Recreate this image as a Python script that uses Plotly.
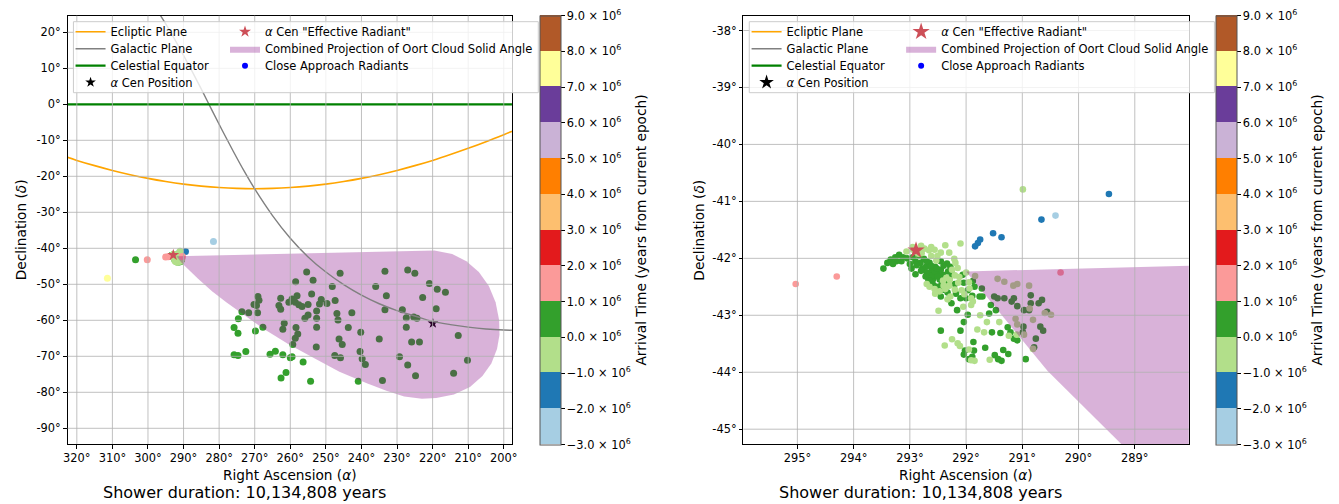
import plotly.graph_objects as go

W, H = 1339, 504
FONT = "DejaVu Sans"

# ---------------------------------------------------------------- data
# Ecliptic, galactic plane and celestial equator (RA, Dec in degrees)
ecl_ra = [325, 320, 315, 310, 305, 300, 295, 290, 285, 280, 275, 270, 265, 260,
          255, 250, 245, 240, 235, 230, 225, 220, 215, 210, 205, 200, 195]
ecl_dec = [-13.96, -15.58, -17.04, -18.37, -19.55, -20.58, -21.45, -22.17, -22.72,
           -23.12, -23.36, -23.44, -23.36, -23.12, -22.72, -22.17, -21.45, -20.58,
           -19.55, -18.37, -17.04, -15.58, -13.96, -12.23, -10.38, -8.43, -6.40]

gal_ra = [298, 294, 291, 288, 285, 282, 279, 276, 273, 270, 265, 260, 255, 250,
          245, 240, 235, 230, 225, 220, 215, 210, 205, 200, 195]
gal_dec = [27.0, 20.7, 15.4, 9.9, 4.2, -1.7, -7.5, -13.1, -18.5, -23.5, -30.9, -37.2,
           -42.4, -46.6, -50.1, -53.0, -55.4, -57.3, -58.8, -60.3, -61.2, -61.9,
           -62.4, -62.7, -62.85]

equ_ra = [325, 195]
equ_dec = [0.0, 0.0]

# alpha Centauri and its "effective radiant"
acen_ra, acen_dec = [219.93], [-60.83]
eff_ra, eff_dec = [292.89], [-41.86]

# Combined projection of the Oort cloud solid angle (outline)
oort_ra = [292.0, 288.0, 280.0, 270.0, 260.0, 250.0, 240.0, 230.0, 224.0, 219.5,
           214.5, 210.5, 207.0, 204.2, 202.3, 201.3, 201.2, 201.9, 203.5, 206.0,
           209.5, 214.0, 219.0, 223.0, 228.0, 233.0, 238.5, 246.2, 253.9, 260.6,
           267.3, 273.0, 278.0, 282.0, 286.0, 289.2, 290.55]
oort_dec = [-42.23, -42.13, -41.93, -41.68, -41.43, -41.18, -40.93, -40.68, -40.55,
            -40.6, -41.6, -43.6, -46.6, -50.5, -55.0, -60.0, -64.0, -68.0, -72.0,
            -75.5, -78.5, -80.6, -81.6, -81.8, -81.2, -79.6, -77.5, -74.3, -70.2,
            -66.6, -62.5, -58.6, -55.0, -51.9, -48.4, -45.3, -43.98]

# Close-approach radiants, grouped by arrival-time band (years from current epoch)
lblue_ra = [281.6, 290.41]
lblue_dec = [-38.1, -41.25]
lblue_t = -2.5e6

blue_ra = [289.46, 290.66, 291.52, 291.37, 291.75, 291.79, 291.84]
blue_dec = [-40.87, -41.32, -41.56, -41.63, -41.67, -41.73, -41.79]
blue_t = -1.5e6

green_ra = [
    255.4, 246.0, 258.5, 253.6, 248.2, 254.0, 269.1, 268.8, 270.2, 269.5, 262.7, 263.2,
    262.7, 260.4, 259.5, 258.1, 258.6, 257.6, 256.7, 255.0, 255.0, 255.9, 252.6, 252.6,
    251.3, 251.8, 249.7, 247.4, 246.9, 246.6, 242.7, 252.6, 243.7, 240.2, 273.6, 271.7,
    269.2, 274.6, 267.7, 269.8, 261.7, 262.1, 258.4, 257.9, 258.6, 259.3, 252.7, 246.3,
    245.4, 247.5, 245.9, 240.4, 239.8, 238.9, 240.9, 275.8, 274.7, 275.8, 274.7, 272.5,
    265.7, 264.2, 262.1, 260.0, 259.5, 256.4, 261.2, 262.6, 254.3,
    233.4, 227.0, 225.0, 236.0, 220.9, 218.7, 216.4, 233.0, 222.8, 233.4, 228.5, 227.4,
    225.3, 224.4, 219.0, 227.4, 235.0, 225.9, 223.7, 212.8, 229.3, 227.0, 224.8, 234.1,
    214.1, 210.2, 303.5,
    293.47, 293.40, 293.34, 293.26, 293.19, 293.12, 293.24, 292.97, 292.84, 292.81,
    292.75, 292.71, 292.65, 292.61, 292.66, 292.55, 292.51, 292.59, 292.47, 292.41,
    292.37, 292.44, 292.32, 292.34, 292.25, 292.45, 292.26, 292.16, 292.06, 292.04,
    292.00, 292.04, 292.45, 292.10, 291.97, 292.02, 291.95, 291.86, 291.87, 291.66,
    292.04, 291.49, 291.43, 291.37, 291.34, 291.25, 290.94, 291.54, 291.39, 291.26,
    291.89, 291.97, 291.72, 291.71, 291.50, 291.44, 291.32, 291.19, 291.15, 291.09,
    290.97, 290.88, 290.85, 290.71, 290.65, 290.56, 290.68, 290.63, 290.76, 290.79,
    290.98, 290.99, 291.15, 291.09, 291.21, 291.59, 291.56, 291.47, 291.76, 291.88,
    291.85, 290.85, 292.90, 292.78, 292.60, 292.70, 292.45, 292.56, 292.50, 292.67,
    291.89,
    293.30, 293.15, 293.05, 292.95, 292.88, 292.80, 292.72, 292.64, 292.58, 292.52,
    292.40, 292.33, 292.70, 292.62, 292.52, 292.40, 292.30, 292.20, 292.18, 292.10,
    292.90, 293.00, 292.85, 292.45, 292.28]
green_dec = [
    -46.6, -46.9, -49.3, -48.9, -50.6, -52.7, -53.4, -54.4, -55.6, -55.9, -53.9, -55.9,
    -56.9, -55.0, -54.1, -53.2, -55.0, -55.7, -56.2, -55.6, -58.5, -59.4, -57.4, -59.4,
    -54.2, -55.5, -55.3, -54.5, -58.1, -59.9, -57.9, -61.9, -62.0, -63.3, -57.6, -57.9,
    -57.9, -59.6, -61.9, -63.0, -60.8, -62.5, -62.0, -63.8, -65.0, -66.7, -67.4, -65.2,
    -66.7, -69.8, -70.4, -68.7, -70.7, -72.3, -76.9, -62.0, -63.6, -69.6, -69.8, -68.7,
    -69.4, -68.6, -69.6, -70.4, -70.1, -71.6, -74.5, -76.0, -76.9,
    -46.4, -46.0, -46.9, -50.6, -49.8, -51.4, -52.2, -53.2, -53.7, -57.1, -57.1, -59.3,
    -59.1, -59.4, -56.8, -61.9, -65.2, -66.0, -66.0, -64.2, -70.1, -72.4, -75.4, -76.7,
    -74.7, -71.1, -43.2,
    -42.18, -42.08, -42.02, -41.98, -41.94, -41.98, -42.05, -42.18, -41.95, -42.08,
    -42.01, -42.15, -42.08, -42.21, -42.27, -42.15, -42.27, -42.37, -42.37, -42.29,
    -42.41, -42.47, -42.23, -42.09, -42.27, -42.67, -42.79, -42.91, -42.29, -42.43,
    -42.70, -43.12, -43.27, -43.27, -42.99, -43.62, -43.77, -43.62, -43.47, -43.57,
    -43.69, -43.70, -43.77, -43.80, -43.61, -43.68, -43.77, -43.30, -43.31, -43.21,
    -42.66, -42.56, -42.53, -42.67, -42.67, -42.70, -42.70, -42.76, -42.70, -42.84,
    -42.91, -42.91, -42.65, -42.79, -42.73, -42.94, -43.20, -43.27, -43.41, -43.56,
    -43.20, -43.30, -43.41, -43.44, -43.30, -42.97, -42.82, -42.91, -42.67, -42.40,
    -42.50, -42.79, -42.05, -42.18, -42.30, -42.25, -42.20, -42.23, -42.32, -42.38,
    -43.73,
    -42.10, -42.05, -42.00, -41.98, -42.12, -42.22, -42.32, -42.40, -42.47, -42.50,
    -42.55, -42.60, -42.05, -42.13, -42.18, -42.13, -42.35, -42.45, -42.62, -42.70,
    -42.28, -42.10, -41.88, -42.05, -42.15]
green_t = 0.5e6

lgreen_ra = [
    293.06, 292.94, 292.74, 292.66, 292.56, 292.51, 292.37, 292.10, 292.21, 292.15,
    292.65, 292.56, 292.41, 292.37, 292.47, 292.29, 292.28, 292.14, 292.08, 292.03,
    291.91, 291.63, 291.68, 292.38, 292.15, 292.11, 291.91, 291.85, 291.58, 292.49,
    292.35, 292.19, 292.53, 292.62, 292.79, 291.84, 291.44, 291.32, 291.16, 291.09,
    290.88, 290.87, 290.81, 290.60, 290.49, 291.12, 291.41, 291.24, 291.10, 290.97,
    290.81, 291.09, 291.94, 291.91, 291.88, 290.99, 292.85, 292.30, 292.20,
    292.95, 292.80, 292.62, 292.45, 292.30, 292.25, 292.40, 292.55, 292.20, 292.12,
    292.00, 291.95, 292.70, 292.33, 292.05, 291.75, 291.80, 291.95, 292.25]
lgreen_dec = [
    -41.88, -41.85, -41.83, -41.86, -41.85, -41.96, -41.77, -41.74, -42.01, -42.17,
    -42.50, -42.54, -42.39, -42.54, -42.58, -42.38, -42.67, -42.43, -42.56, -42.63,
    -42.82, -43.12, -43.30, -43.53, -43.49, -43.54, -43.79, -43.80, -43.78, -42.92,
    -42.34, -42.08, -42.04, -41.96, -41.91, -42.31, -42.36, -42.41, -42.48, -42.45,
    -42.48, -42.88, -43.08, -42.96, -42.99, -43.06, -43.12, -43.36, -43.34, -43.34,
    -43.59, -43.16, -42.53, -42.70, -42.76, -40.79, -41.92, -42.48, -42.30,
    -41.80, -41.78, -41.80, -41.90, -41.90, -42.20, -42.48, -42.62, -42.55, -42.33,
    -42.25, -42.42, -42.45, -42.72, -42.85, -43.00, -43.25, -43.60, -43.42]
lgreen_t = -0.5e6

pink_ra = [300.2, 295.03, 294.30, 290.32]
pink_dec = [-43.2, -42.45, -42.32, -42.25]
pink_t = 1.5e6

yellow_ra = [311.4]
yellow_dec = [-48.3]
yellow_t = 7.5e6

# Axis ticks and colour scale
ra_ticks_wide = [320, 310, 300, 290, 280, 270, 260, 250, 240, 230, 220, 210, 200]
dec_ticks_wide = [-90, -80, -70, -60, -50, -40, -30, -20, -10, 0, 10, 20]
ra_ticks_zoom = [295, 294, 293, 292, 291, 290, 289]
dec_ticks_zoom = [-45, -44, -43, -42, -41, -40, -39, -38]
cb_ticks = [-3e6, -2e6, -1e6, 0, 1e6, 2e6, 3e6, 4e6, 5e6, 6e6, 7e6, 8e6, 9e6]
paired = ['#a6cee3', '#1f78b4', '#b2df8a', '#33a02c', '#fb9a99', '#e31a1c',
          '#fdbf6f', '#ff7f00', '#cab2d6', '#6a3d9a', '#ffff99', '#b15928']
shower_text = "Shower duration: 10,134,808 years"

# ---------------------------------------------------------------- helpers
def fx(px):
    return px / W


def fy(py):
    return 1 - py / H


def cb_label(v):
    s = f"{abs(v) / 1e6:.1f} × 10<sup>6</sup>"
    return ("−" + s) if v < 0 else s


n_bins = len(paired)
colorscale = []
for i, c in enumerate(paired):
    colorscale.append([i / n_bins, c])
    colorscale.append([(i + 1) / n_bins, c])

groups = [
    (lblue_ra, lblue_dec, lblue_t),
    (blue_ra, blue_dec, blue_t),
    (green_ra, green_dec, green_t),
    (lgreen_ra, lgreen_dec, lgreen_t),
    (pink_ra, pink_dec, pink_t),
    (yellow_ra, yellow_dec, yellow_t),
]

panels = [
    dict(xa="x", ya="y", xkey="xaxis", ykey="yaxis", left=64.0, right=511.4,
         xr=[322.6, 197.7], yr=[-94.36, 24.61], xt=ra_ticks_wide, yt=dec_ticks_wide,
         cax="coloraxis", cb_left=540.0, msize=7, eff_size=9, acen_size=8,
         leg_x=(67.0, 222.5), frame=(69.9, 537.9), dec_lab_x=16.5),
    dict(xa="x2", ya="y2", xkey="xaxis2", ykey="yaxis2", left=744.4, right=1192.8,
         xr=[295.96, 288.04], yr=[-45.26, -37.74], xt=ra_ticks_zoom, yt=dec_ticks_zoom,
         cax="coloraxis2", cb_left=1220.7, msize=6.6, eff_size=13, acen_size=11,
         leg_x=(747.6, 903.2), frame=(750.3, 1218.6), dec_lab_x=699.5),
]

TOP, BOTTOM = 15.7, 444.0
ROWS = [31.7, 48.7, 65.7, 82.3]

fig = go.Figure()
layout = dict(
    width=W, height=H, margin=dict(l=0, r=0, t=0, b=0),
    paper_bgcolor="white", plot_bgcolor="white",
    font=dict(family=FONT, size=11.4, color="black"),
    shapes=[], annotations=[],
)

for k, p in enumerate(panels):
    xa, ya = p["xa"], p["ya"]
    lids = []
    for j in range(7):
        n = k * 7 + j + 1
        lids.append("legend" if n == 1 else f"legend{n}")
    # legend slots: (column, row)
    slots = [(0, 0), (0, 1), (0, 2), (0, 3), (1, 0), (1, 1), (1, 2)]
    for lid, (col, row) in zip(lids, slots):
        layout[lid] = dict(
            x=fx(p["leg_x"][col]), xanchor="left", y=fy(ROWS[row]), yanchor="middle",
            bgcolor="rgba(0,0,0,0)", borderwidth=0,
            font=dict(family=FONT, size=11.5, color="black"),
        )

    # radiant points (drawn first so the projection tints them)
    for ra, dec, t in groups:
        fig.add_trace(go.Scatter(
            x=ra, y=dec, xaxis=xa, yaxis=ya, mode="markers", showlegend=False,
            marker=dict(color=[t] * len(ra), coloraxis=p["cax"], size=p["msize"],
                        line=dict(width=0)),
            hoverinfo="skip"))

    fig.add_trace(go.Scatter(
        x=acen_ra, y=acen_dec, xaxis=xa, yaxis=ya, mode="markers",
        name="<i>α</i> Cen Position", legend=lids[3],
        marker=dict(symbol="star", color="black", size=p["acen_size"], line=dict(width=0))))

    fig.add_trace(go.Scatter(
        x=oort_ra, y=oort_dec, xaxis=xa, yaxis=ya, mode="lines", fill="toself",
        fillcolor="rgba(128,0,128,0.3)", line=dict(width=0, color="rgba(128,0,128,0.3)"),
        name="Combined Projection of Oort Cloud Solid Angle", legend=lids[5]))

    fig.add_trace(go.Scatter(
        x=ecl_ra, y=ecl_dec, xaxis=xa, yaxis=ya, mode="lines", line_shape="spline",
        line=dict(color="#ffa500", width=1.6), name="Ecliptic Plane", legend=lids[0]))
    fig.add_trace(go.Scatter(
        x=gal_ra, y=gal_dec, xaxis=xa, yaxis=ya, mode="lines", line_shape="spline",
        line=dict(color="#808080", width=1.4), name="Galactic Plane", legend=lids[1]))
    fig.add_trace(go.Scatter(
        x=equ_ra, y=equ_dec, xaxis=xa, yaxis=ya, mode="lines",
        line=dict(color="#008000", width=2.3), name="Celestial Equator", legend=lids[2]))

    fig.add_trace(go.Scatter(
        x=eff_ra, y=eff_dec, xaxis=xa, yaxis=ya, mode="markers",
        name="<i>α</i> Cen \"Effective Radiant\"", legend=lids[4],
        marker=dict(symbol="star", color="#cd4f58", size=p["eff_size"], line=dict(width=0))))

    fig.add_trace(go.Scatter(
        x=[None], y=[None], xaxis=xa, yaxis=ya, mode="markers",
        name="Close Approach Radiants", legend=lids[6],
        marker=dict(color="blue", size=6)))

    axis_common = dict(
        showgrid=False, zeroline=False, showline=True, mirror=True,
        linecolor="black", linewidth=1, ticks="outside", ticklen=3.5, tickwidth=0.8,
        tickcolor="black", tickfont=dict(family=FONT, size=11.4, color="black"))
    layout[p["xkey"]] = dict(
        axis_common, domain=[fx(p["left"]), fx(p["right"])], range=p["xr"],
        anchor=ya, tickvals=p["xt"], ticktext=[f"{v}°" for v in p["xt"]])
    layout[p["ykey"]] = dict(
        axis_common, domain=[fy(BOTTOM), fy(TOP)], range=p["yr"],
        anchor=xa, tickvals=p["yt"], ticktext=[f"{v}°" for v in p["yt"]])

    # grid drawn over the markers and the projection (the equator line owns Dec 0)
    for v in p["xt"]:
        layout["shapes"].append(dict(
            type="line", xref=xa, yref=f"{ya} domain", x0=v, x1=v, y0=0, y1=1,
            layer="above", line=dict(color="#b0b0b0", width=0.8)))
    for v in p["yt"]:
        if v == equ_dec[0]:
            continue
        layout["shapes"].append(dict(
            type="line", xref=f"{xa} domain", yref=ya, x0=0, x1=1, y0=v, y1=v,
            layer="above", line=dict(color="#b0b0b0", width=0.8)))
    # legend frame
    layout["shapes"].append(dict(
        type="rect", xref="paper", yref="paper",
        x0=fx(p["frame"][0]), x1=fx(p["frame"][1]), y0=fy(92.7), y1=fy(21.7),
        layer="above", fillcolor="rgba(255,255,255,0.8)",
        line=dict(color="#cccccc", width=1)))

    layout[p["cax"]] = dict(
        cmin=-3e6, cmax=9e6, colorscale=colorscale,
        colorbar=dict(
            x=fx(p["cb_left"]), xanchor="left", xpad=0,
            y=fy((TOP + 444.3) / 2), yanchor="middle", ypad=0,
            len=(444.3 - TOP) / H, lenmode="fraction", thickness=21, thicknessmode="pixels",
            outlinewidth=1, outlinecolor="#555555",
            ticks="outside", ticklen=3.5, tickwidth=0.8, tickcolor="black",
            tickvals=cb_ticks, ticktext=[cb_label(v) for v in cb_ticks],
            tickfont=dict(family=FONT, size=11.4, color="black"),
            title=dict(text="Arrival Time (years from current epoch)", side="right",
                       font=dict(family=FONT, size=13.7, color="black"))))

    mid_x = (p["left"] + p["right"]) / 2
    layout["annotations"] += [
        dict(text="Right Ascension (<i>α</i>)", xref="paper", yref="paper",
             x=fx(mid_x), y=fy(475), xanchor="center", yanchor="middle",
             showarrow=False, font=dict(family=FONT, size=13.7, color="black")),
        dict(text="Declination (<i>δ</i>)", xref="paper", yref="paper",
             x=fx(p["dec_lab_x"]), y=fy((TOP + BOTTOM) / 2), xanchor="center",
             yanchor="middle", textangle=-90, showarrow=False,
             font=dict(family=FONT, size=13.7, color="black")),
        dict(text=shower_text, xref="paper", yref="paper",
             x=fx(mid_x - 45.8), y=fy(492.7), xanchor="center", yanchor="middle",
             showarrow=False, font=dict(family=FONT, size=16, color="black")),
    ]

fig.update_layout(**layout)
fig.write_html("out.html")
